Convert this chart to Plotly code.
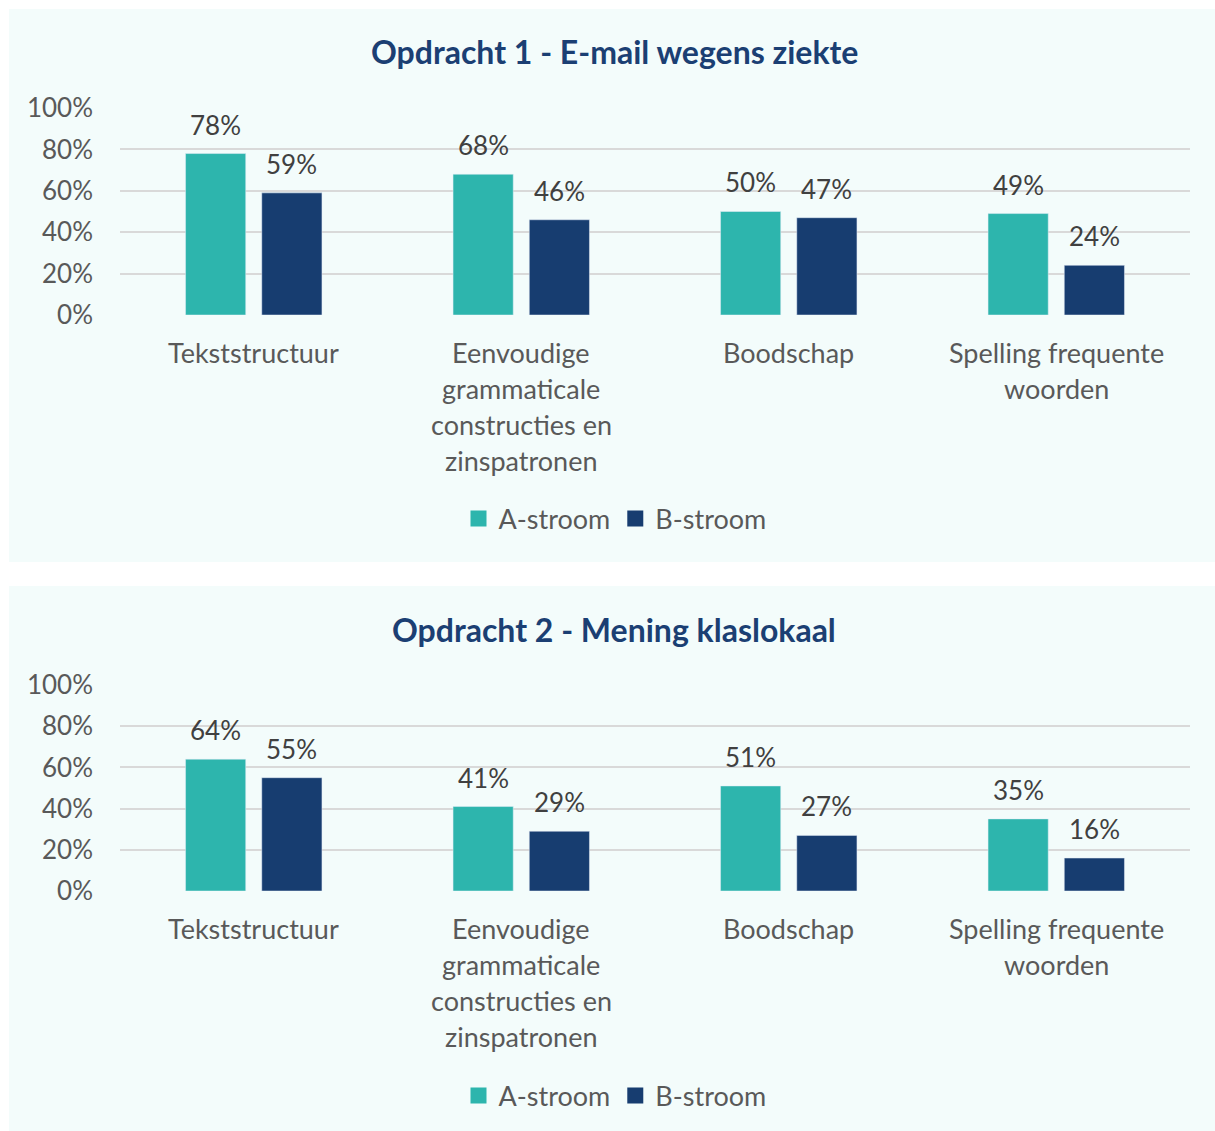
import plotly.graph_objects as go

# Data
categories = ["Tekststructuur",
              "Eenvoudige<br>grammaticale<br>constructies en<br>zinspatronen",
              "Boodschap",
              "Spelling frequente<br>woorden"]
series_names = ["A-stroom", "B-stroom"]
titles = ["Opdracht 1 - E-mail wegens ziekte", "Opdracht 2 - Mening klaslokaal"]
opdracht1_a = [0.78, 0.68, 0.50, 0.49]
opdracht1_b = [0.59, 0.46, 0.47, 0.24]
opdracht2_a = [0.64, 0.41, 0.51, 0.35]
opdracht2_b = [0.55, 0.29, 0.27, 0.16]
y_ticks = [0, 0.2, 0.4, 0.6, 0.8, 1.0]
y_tick_labels = ["0%", "20%", "40%", "60%", "80%", "100%"]

# Styling
W, H = 1215, 1131
FONT = "Lato"
TEAL = "#2DB5AD"
NAVY = "#173D70"
PANEL_BG = "#F3FCFB"
GRID = "#D9D9D9"
TICK_COL = "#595959"
LABEL_COL = "#404040"
TITLE_COL = "#1B3F73"
colors = [TEAL, NAVY]
bar_width = 0.225
bar_offsets = [-0.255, 0.03]


def py(px):
    """Convert a pixel row (from the top) to paper coordinates."""
    return 1 - px / H


panels = [
    dict(values=[opdracht1_a, opdracht1_b], box=(9, 562), plot=(108, 315),
         title_y=52, legend_y=519, legend="legend"),
    dict(values=[opdracht2_a, opdracht2_b], box=(586, 1131), plot=(685, 891),
         title_y=629, legend_y=1096, legend="legend2"),
]

fig = go.Figure()
annotations = []
shapes = []
x_dom = [120 / W, 1190 / W]

for p_idx, panel in enumerate(panels):
    sfx = "" if p_idx == 0 else str(p_idx + 1)
    xa, ya = "x" + sfx, "y" + sfx
    top, bottom = panel["plot"]

    for s_idx, vals in enumerate(panel["values"]):
        fig.add_trace(go.Bar(
            x=categories, y=vals, xaxis=xa, yaxis=ya,
            name=series_names[s_idx], marker_color=colors[s_idx],
            width=bar_width, offset=bar_offsets[s_idx],
            showlegend=False, hoverinfo="skip",
        ))
        # value labels above each bar
        for c_idx, v in enumerate(vals):
            annotations.append(dict(
                x=c_idx + bar_offsets[s_idx] + bar_width / 2, y=v,
                xref=xa, yref=ya, text=f"{round(v * 100)}%",
                showarrow=False, yanchor="middle", yshift=29,
                font=dict(family=FONT, size=26, color=LABEL_COL),
            ))
        # legend entries with larger square swatches
        fig.add_trace(go.Scatter(
            x=[None], y=[None], xaxis=xa, yaxis=ya, mode="markers",
            name=series_names[s_idx], legend=panel["legend"],
            marker=dict(symbol="square", size=16, color=colors[s_idx]),
            showlegend=True,
        ))

    # category labels, one annotation per line for wider line spacing
    for c_idx, cat in enumerate(categories):
        for l_idx, line in enumerate(cat.split("<br>")):
            annotations.append(dict(
                x=c_idx, y=0, xref=xa, yref=ya + " domain",
                text=line, showarrow=False, yanchor="middle",
                yshift=-37 - 36 * l_idx,
                font=dict(family=FONT, size=27, color=TICK_COL),
            ))

    # panel title
    annotations.append(dict(
        x=614 / W, y=py(panel["title_y"]), xref="paper", yref="paper",
        text=f"<b>{titles[p_idx]}</b>", showarrow=False, yanchor="middle",
        font=dict(family=FONT, size=32, color=TITLE_COL),
    ))

    # panel background
    shapes.append(dict(
        type="rect", xref="paper", yref="paper", layer="below",
        x0=9 / W, x1=1, y0=py(panel["box"][1]), y1=py(panel["box"][0]),
        fillcolor=PANEL_BG, line=dict(width=0),
    ))

    fig.update_layout(**{
        "xaxis" + sfx: dict(domain=x_dom, anchor=ya, showticklabels=False,
                            showgrid=False, zeroline=False, showline=False,
                            type="category", range=[-0.5, 3.5]),
        "yaxis" + sfx: dict(domain=[py(bottom), py(top)], anchor=xa,
                            range=[0, 1], tickvals=y_ticks,
                            ticktext=y_tick_labels, showgrid=True,
                            gridcolor=GRID, gridwidth=1.5, zeroline=False,
                            showline=False, ticklabelstandoff=26,
                            tickfont=dict(family=FONT, size=26,
                                          color=TICK_COL)),
        panel["legend"]: dict(orientation="h", x=615 / W, xanchor="center",
                              y=py(panel["legend_y"]), yanchor="middle",
                              xref="container", yref="container",
                              bgcolor="rgba(0,0,0,0)",
                              font=dict(family=FONT, size=27, color=TICK_COL),
                              itemwidth=30, tracegroupgap=0),
    })

fig.update_layout(
    width=W, height=H,
    margin=dict(l=0, r=0, t=0, b=0, pad=0, autoexpand=False),
    paper_bgcolor="white", plot_bgcolor="rgba(0,0,0,0)",
    annotations=annotations, shapes=shapes,
    barmode="group",
    font=dict(family=FONT, color=TICK_COL),
)

fig.write_html("out.html")
